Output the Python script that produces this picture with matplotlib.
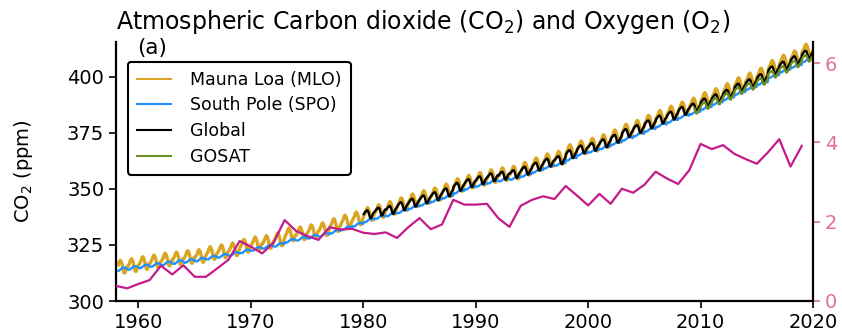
import numpy as np
import matplotlib
matplotlib.use("Agg")
import matplotlib.pyplot as plt

# ---------------- data ----------------
years_all = list(range(1958, 2020))

# Mauna Loa annual means (ppm), 1958-2019
mlo_annual = [315.3, 315.98, 316.91, 317.64, 318.45, 318.99, 319.62, 320.04, 321.37, 322.18,
              323.05, 324.62, 325.68, 326.32, 327.46, 329.68, 330.19, 331.12, 332.03, 333.84,
              335.41, 336.84, 338.76, 340.12, 341.48, 343.15, 344.87, 346.35, 347.61, 349.31,
              351.69, 353.20, 354.45, 355.70, 356.54, 357.21, 358.96, 360.97, 362.74, 363.88,
              366.84, 368.54, 369.71, 371.32, 373.45, 375.98, 377.70, 379.98, 382.09, 384.02,
              385.83, 387.64, 390.10, 391.85, 394.06, 396.74, 398.81, 401.01, 404.41, 406.76,
              408.72, 411.66]
# within-year monthly offsets (Jan..Dec) for Mauna Loa
mlo_month = [-0.76, 0.05, 0.88, 2.22, 2.85, 2.28, 0.92, -1.05, -2.72, -2.78, -1.45, -0.17]

# South Pole annual means (ppm), 1958-2019
spo_annual = [314.2, 314.8, 315.5, 316.1, 316.8, 317.4, 317.9, 318.5, 319.4, 320.2,
              321.0, 322.2, 323.3, 324.2, 325.1, 326.9, 327.8, 328.7, 329.5, 331.0,
              332.5, 334.1, 336.0, 337.5, 338.7, 340.1, 341.9, 343.4, 345.0, 346.6,
              348.8, 350.6, 351.9, 353.3, 354.2, 354.9, 356.3, 358.1, 359.9, 361.2,
              363.5, 365.8, 367.1, 368.6, 370.5, 372.4, 374.3, 376.4, 378.4, 380.4,
              382.4, 384.1, 386.2, 388.4, 390.5, 392.9, 395.1, 397.3, 400.4, 402.8,
              404.9, 407.4]
spo_month = [-0.75, -0.85, -0.80, -0.55, -0.20, 0.13, 0.47, 0.70, 0.73, 0.67, 0.50, 0.25]

# Global annual means (ppm), 1980-2019
glob_years = list(range(1980, 2020))
glob_annual = [338.91, 340.11, 340.86, 342.53, 344.07, 345.54, 346.97, 348.68, 351.16, 352.79,
               354.06, 355.39, 356.09, 356.83, 358.33, 360.17, 361.93, 363.05, 365.70, 367.80,
               368.96, 370.57, 372.58, 375.14, 376.95, 378.98, 381.15, 382.90, 385.02, 386.50,
               388.76, 390.63, 392.65, 395.40, 397.34, 399.65, 403.06, 405.22, 407.61, 410.07]
glob_month = [-0.13, 0.50, 1.03, 1.47, 1.50, 0.73, -0.83, -2.00, -1.87, -0.73, 0.20, 0.73]

# GOSAT annual means (ppm), 2009-2019
gosat_years = list(range(2009, 2020))
gosat_annual = [385.3, 387.4, 389.4, 391.5, 394.1, 396.0, 398.2, 401.4, 403.6, 406.0, 408.5]
gosat_month = [-0.30, 0.30, 0.75, 1.10, 1.15, 0.55, -0.70, -1.70, -1.60, -0.65, 0.15, 0.60]

# annual growth (right axis), 1958-2019
growth = [0.38, 0.32, 0.43, 0.53, 0.89, 0.67, 0.90, 0.61, 0.61, 0.82,
          1.04, 1.51, 1.37, 1.20, 1.46, 2.04, 1.77, 1.64, 1.54, 1.86,
          1.80, 1.82, 1.72, 1.69, 1.73, 1.59, 1.86, 2.09, 1.81, 1.93,
          2.55, 2.43, 2.43, 2.45, 2.09, 1.87, 2.40, 2.55, 2.64, 2.57,
          2.90, 2.66, 2.41, 2.70, 2.45, 2.83, 2.73, 2.93, 3.26, 3.09,
          2.95, 3.30, 3.96, 3.83, 3.93, 3.71, 3.58, 3.46, 3.75, 4.08,
          3.39, 3.91]


def monthly(years, annual, offsets, first_month=0):
    t, v = [], []
    for i, (y, a) in enumerate(zip(years, annual)):
        m0 = first_month if i == 0 else 0
        for m in range(m0, 12):
            t.append(y + (m + 0.5) / 12.0)
            v.append(a + offsets[m])
    return np.array(t), np.array(v)


t_mlo, v_mlo = monthly(years_all, mlo_annual, mlo_month, first_month=2)
t_spo, v_spo = monthly(years_all, spo_annual, spo_month, first_month=0)
t_glb, v_glb = monthly(glob_years, glob_annual, glob_month)
t_gos, v_gos = monthly(gosat_years, gosat_annual, gosat_month, first_month=5)

# ---------------- plot ----------------
fig = plt.figure(figsize=(8.42, 3.33), dpi=100)
ax = fig.add_axes([116 / 842, 32 / 333, (813 - 116) / 842, (301 - 42) / 333])

c_mlo = "#DAA520"
c_spo = "#1E90FF"
c_glb = "black"
c_gos = "#6B8E23"
c_gr = "#C51B8A"
c_tick2 = "#E0709A"

l1, = ax.plot(t_mlo, v_mlo, color=c_mlo, lw=2.4, label="Mauna Loa (MLO)")
l2, = ax.plot(t_spo, v_spo, color=c_spo, lw=1.7, label="South Pole (SPO)")
l3, = ax.plot(t_glb, v_glb, color=c_glb, lw=1.7, label="Global")
l4, = ax.plot(t_gos, v_gos, color=c_gos, lw=1.7, label="GOSAT")

ax.set_xlim(1958, 2020)
ax.set_ylim(300, 415.5)
ax.set_xticks([1960, 1970, 1980, 1990, 2000, 2010, 2020])
ax.set_yticks([300, 325, 350, 375, 400])
ax.tick_params(labelsize=14, width=1.2, length=5)
ax.set_ylabel("CO$_2$ (ppm)", fontsize=14, labelpad=23)
for s in ["top", "right"]:
    ax.spines[s].set_visible(False)
for s in ["left", "bottom"]:
    ax.spines[s].set_linewidth(1.6)

ax2 = ax.twinx()
ax2.plot(years_all, growth, color=c_gr, lw=1.6)
ax2.set_ylim(0, 6.53)
ax2.set_yticks([0, 2, 4, 6])
ax2.tick_params(labelsize=14, colors=c_tick2, width=1.2, length=5)
for s in ["top", "left", "bottom"]:
    ax2.spines[s].set_visible(False)
ax2.spines["right"].set_linewidth(1.6)
ax2.spines["right"].set_color("black")

leg = ax.legend(handles=[l1, l2, l3, l4], loc="upper left",
                bbox_to_anchor=(0.017, 0.923), borderaxespad=0, fontsize=12.5,
                frameon=True, fancybox=True, framealpha=1, labelspacing=0.45,
                handletextpad=1.1, borderpad=0.5)
leg.get_frame().set_edgecolor("black")
leg.get_frame().set_linewidth(1.5)
for h in leg.get_lines():
    h.set_linewidth(1.5)

ax.text(0.03, 0.975, "(a)", transform=ax.transAxes, fontsize=15.5,
        ha="left", va="center")
ax.set_title("Atmospheric Carbon dioxide (CO$_2$) and Oxygen (O$_2$)",
             loc="left", fontsize=17, pad=9)

fig.savefig("out.png", dpi=100)
